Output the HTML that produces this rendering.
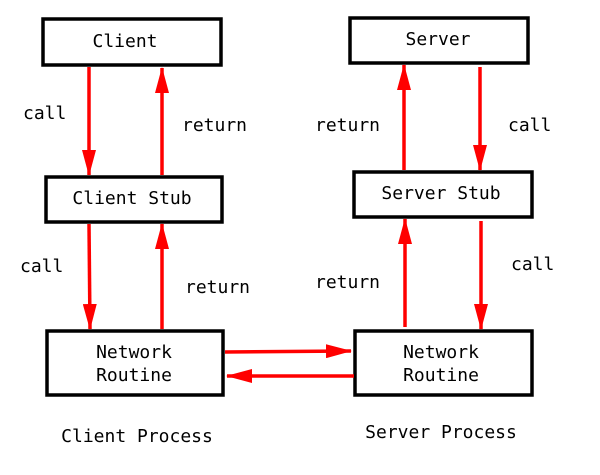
<!DOCTYPE html>
<html><head><style>
html,body{margin:0;padding:0;background:#fff;}
svg{display:block;}
text{font-family:"DejaVu Sans Mono","Liberation Mono",monospace;font-size:18px;fill:#000;}
</style></head><body>
<svg width="600" height="475" viewBox="0 0 600 475">
<defs>
<marker id="a" markerWidth="26" markerHeight="14" refX="25" refY="7" orient="auto" markerUnits="userSpaceOnUse">
<path d="M0,0 L26,7 L0,14 Z" fill="#ff0000"/>
</marker>
</defs>
<g fill="none" stroke="#000" stroke-width="3.5">
<rect x="43" y="19" width="178" height="46"/>
<rect x="46" y="177" width="176" height="45"/>
<rect x="47" y="331" width="176" height="64"/>
<rect x="350" y="18" width="178" height="45"/>
<rect x="354" y="172" width="178" height="45"/>
<rect x="355" y="331" width="177" height="64"/>
</g>
<g stroke="#ff0000" stroke-width="3.5" marker-end="url(#a)">
<line x1="89" y1="67" x2="89" y2="175"/>
<line x1="162" y1="175" x2="162" y2="68"/>
<line x1="89" y1="224" x2="90" y2="329"/>
<line x1="162" y1="329" x2="162" y2="224"/>
<line x1="404" y1="170" x2="404" y2="65"/>
<line x1="480" y1="67" x2="480" y2="170"/>
<line x1="405" y1="327" x2="405" y2="219"/>
<line x1="481" y1="221" x2="481" y2="329"/>
<line x1="225" y1="352" x2="351" y2="351"/>
<line x1="354" y1="376" x2="227" y2="376"/>
</g>
<g text-anchor="middle">
<text x="125" y="47">Client</text>
<text x="132" y="204">Client Stub</text>
<text x="134" y="358">Network</text>
<text x="134" y="381">Routine</text>
<text x="438" y="45">Server</text>
<text x="441" y="199">Server Stub</text>
<text x="441" y="358">Network</text>
<text x="441" y="381">Routine</text>
<text x="137" y="442">Client Process</text>
<text x="441" y="438">Server Process</text>
</g>
<text x="23" y="119">call</text>
<text x="182" y="131">return</text>
<text x="315" y="131">return</text>
<text x="508" y="131">call</text>
<text x="20" y="272">call</text>
<text x="185" y="293">return</text>
<text x="315" y="288">return</text>
<text x="511" y="270">call</text>
</svg>
</body></html>
